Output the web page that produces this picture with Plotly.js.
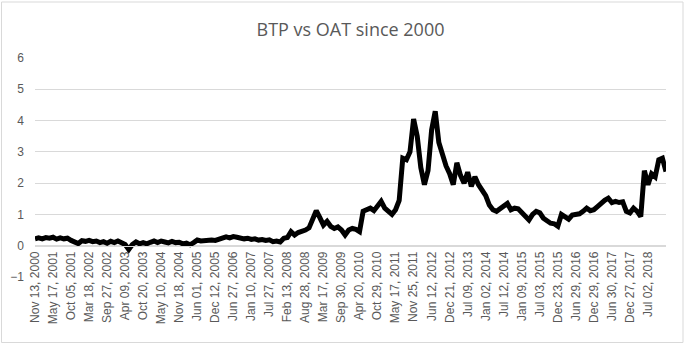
<!DOCTYPE html>
<html>
<head>
<meta charset="utf-8">
<script src="https://cdn.plot.ly/plotly-3.0.1.min.js"></script>
<style>
  html, body { margin: 0; padding: 0; background: #ffffff; }
  #chart { width: 688px; height: 361px; }
</style>
</head>
<body>
<div id="chart"></div>
<script>
// Tick labels shown on the category axis (one every 5 points)
const dateLabels = [
  "Nov 13, 2000", "May 17, 2001", "Oct 05, 2001", "Mar 18, 2002", "Sep 27, 2002",
  "Apr 09, 2003", "Oct 20, 2003", "May 10, 2004", "Nov 18, 2004", "Jun 01, 2005",
  "Dec 12, 2005", "Jun 27, 2006", "Jan 10, 2007", "Jul 27, 2007", "Feb 13, 2008",
  "Aug 28, 2008", "Mar 17, 2009", "Sep 30, 2009", "Apr 20, 2010", "Oct 29, 2010",
  "May 17, 2011", "Nov 25, 2011", "Jun 12, 2012", "Dec 21, 2012", "Jul 09, 2013",
  "Jan 02, 2014", "Jul 12, 2014", "Jan 09, 2015", "Jul 03, 2015", "Dec 23, 2015",
  "Jun 29, 2016", "Dec 29, 2016", "Jun 30, 2017", "Dec 27, 2017", "Jul 02, 2018"
];
const labelEvery = 5;

// BTP - OAT spread (percentage points)
const spread = [
  0.22, 0.25, 0.22, 0.26, 0.24, 0.27, 0.21, 0.25, 0.22, 0.24,
  0.17, 0.12, 0.07, 0.16, 0.14, 0.17, 0.13, 0.15, 0.10, 0.13,
  0.08, 0.14, 0.10, 0.15, 0.08, 0.04, -0.12, 0.04, 0.12, 0.06,
  0.10, 0.06, 0.11, 0.15, 0.10, 0.15, 0.12, 0.09, 0.14, 0.10,
  0.11, 0.06, 0.08, 0.03, 0.10, 0.18, 0.15, 0.17, 0.15, 0.18,
  0.17, 0.20, 0.24, 0.28, 0.25, 0.29, 0.27, 0.24, 0.22, 0.24,
  0.20, 0.22, 0.18, 0.20, 0.17, 0.19, 0.13, 0.15, 0.12, 0.24,
  0.26, 0.45, 0.34, 0.42, 0.45, 0.50, 0.57, 0.90, 1.12, 0.90,
  0.66, 0.78, 0.62, 0.55, 0.60, 0.50, 0.34, 0.50, 0.55, 0.52,
  0.45, 1.10, 1.14, 1.20, 1.12, 1.25, 1.42, 1.20, 1.10, 1.00,
  1.15, 1.45, 2.80, 2.75, 3.00, 4.05, 3.50, 2.50, 1.95, 2.40,
  3.70, 4.30, 3.30, 2.90, 2.55, 2.30, 1.95, 2.65, 2.25, 2.00,
  2.35, 1.90, 2.20, 1.95, 1.80, 1.60, 1.30, 1.15, 1.10, 1.18,
  1.25, 1.35, 1.15, 1.20, 1.18, 1.05, 0.95, 0.82, 1.00, 1.10,
  1.05, 0.88, 0.80, 0.72, 0.70, 0.62, 1.00, 0.90, 0.85, 0.98,
  1.00, 1.02, 1.10, 1.20, 1.12, 1.15, 1.25, 1.38, 1.45, 1.52,
  1.38, 1.42, 1.38, 1.40, 1.10, 1.05, 1.20, 1.10, 0.93, 2.40,
  1.95, 2.30, 2.20, 2.75, 2.80, 2.37
];

const xIdx = spread.map((_, i) => i);
const tickVals = dateLabels.map((_, k) => k * labelEvery);

const gray = '#595959';
const grid = '#d9d9d9';

// plot area geometry
const L = 35, R = 22, T = 58, B = 84, W = 688, H = 361;
const plotH = H - T - B;
const yMin = -1, yMax = 6;
const zeroPos = (0 - yMin) / (yMax - yMin);

const trace = {
  x: xIdx,
  y: spread,
  type: 'scatter',
  mode: 'lines',
  line: { color: '#000000', width: 5 },
  hoverinfo: 'skip'
};

const layout = {
  width: W, height: H,
  margin: { l: L, r: R, t: T, b: B, pad: 0 },
  paper_bgcolor: '#ffffff',
  plot_bgcolor: '#ffffff',
  showlegend: false,
  title: {
    text: 'BTP vs OAT since 2000',
    font: { family: 'Open Sans, sans-serif', size: 18, color: gray },
    x: 0.5, xanchor: 'center', xref: 'paper',
    y: 1 - 30 / H, yanchor: 'middle', yref: 'container'
  },
  xaxis: {
    type: 'linear',
    range: [0, spread.length - 1],
    anchor: 'free',
    position: zeroPos,
    showgrid: false,
    zeroline: false,
    showline: true,
    linecolor: grid,
    linewidth: 1,
    ticks: '',
    tickmode: 'array',
    tickvals: tickVals,
    ticktext: dateLabels,
    tickangle: -90,
    tickfont: { family: 'Liberation Sans, Arial, sans-serif', size: 12, color: gray },
    automargin: false,
    fixedrange: true
  },
  yaxis: {
    range: [yMin, yMax],
    dtick: 1,
    tick0: 0,
    showgrid: true,
    gridcolor: grid,
    gridwidth: 1,
    zeroline: false,
    showline: false,
    ticks: '',
    ticklabelstandoff: 10,
    tickfont: { family: 'Liberation Sans, Arial, sans-serif', size: 12, color: gray },
    automargin: false,
    fixedrange: true
  },
  shapes: [{
    type: 'rect',
    xref: 'paper', yref: 'paper',
    x0: (1.5 - L) / (W - L - R), x1: (683 - L) / (W - L - R),
    y0: (H - B - 342.5) / plotH, y1: (H - B - 2) / plotH,
    line: { color: grid, width: 1 },
    fillcolor: 'rgba(0,0,0,0)',
    layer: 'below'
  }]
};

Plotly.newPlot('chart', [trace], layout, { displayModeBar: false, staticPlot: true });
</script>
</body>
</html>
